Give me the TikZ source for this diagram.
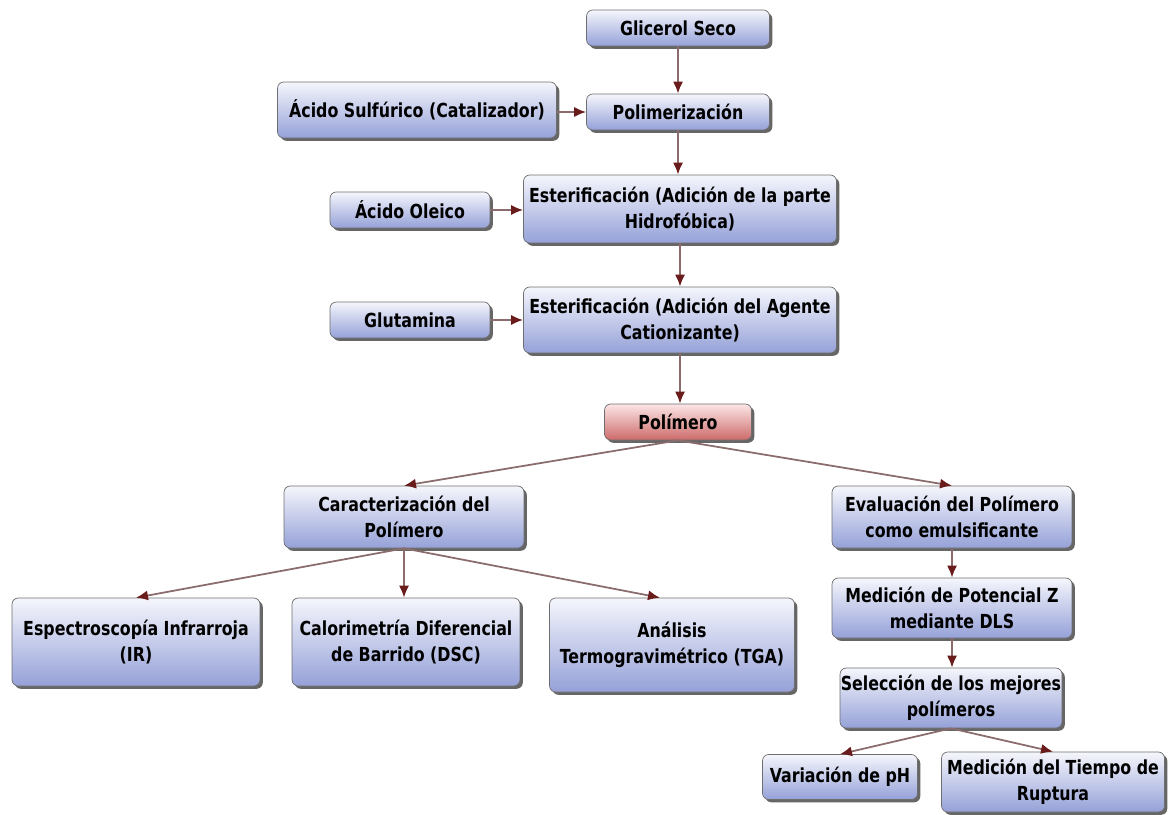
\documentclass[tikz,border=0pt]{standalone}
\usepackage{fontspec}
\setmainfont{DejaVu Sans Condensed}[FakeStretch=0.91]
\usetikzlibrary{arrows.meta,shadows}
\definecolor{boxtop}{HTML}{F5F6FC}
\definecolor{boxbot}{HTML}{95A1D8}
\definecolor{redtop}{HTML}{FCE6E6}
\definecolor{redbot}{HTML}{CD6A6A}
\definecolor{edgegray}{HTML}{6E6E6E}
\definecolor{linecol}{HTML}{8A6C6C}
\definecolor{tipcol}{HTML}{6A1C1C}
\tikzset{
  flowbox/.style={draw=edgegray, line width=0.4pt, rounded corners=3.5pt,
    top color=boxtop, bottom color=boxbot, align=center, inner xsep=0pt, inner ysep=2pt,
    font=\fontsize{11}{14.5}\selectfont\bfseries, text=black,
    drop shadow={shadow xshift=1.6pt, shadow yshift=-1.6pt, fill=black, opacity=0.6}},
  redflow/.style={flowbox, top color=redtop, bottom color=redbot},
  conn/.style={draw=linecol, line width=1pt,
    -{Latex[length=2.4mm,width=2mm,color=tipcol,fill=tipcol]}}
}
\begin{document}
\begin{tikzpicture}[x=0.02cm,y=-0.02cm]
\useasboundingbox (0,0) rectangle (1168,814);
\node[flowbox, minimum width=3.66cm, minimum height=0.72cm] (glic) at (678,28) {Glicerol Seco};
\node[flowbox, minimum width=3.66cm, minimum height=0.72cm] (poli) at (678,112) {Polimerización};
\node[flowbox, minimum width=5.58cm, minimum height=1.12cm] (acs) at (417,110) {Ácido Sulfúrico (Catalizador)};
\node[flowbox, minimum width=3.2cm, minimum height=0.72cm] (olei) at (410,210) {Ácido Oleico};
\node[flowbox, minimum width=6.26cm, minimum height=1.36cm] (est1) at (680,209) {Esterificación (Adición de la parte\\Hidrofóbica)};
\node[flowbox, minimum width=3.2cm, minimum height=0.72cm] (glut) at (410,320) {Glutamina};
\node[flowbox, minimum width=6.26cm, minimum height=1.32cm] (est2) at (680,320) {Esterificación (Adición del Agente\\Cationizante)};
\node[redflow, minimum width=2.94cm, minimum height=0.72cm] (pol) at (678,422) {Polímero};
\node[flowbox, minimum width=4.8cm, minimum height=1.24cm] (car) at (404,517) {Caracterización del\\Polímero};
\node[flowbox, minimum width=4.8cm, minimum height=1.24cm] (eva) at (952,517) {Evaluación del Polímero\\como emulsificante};
\node[flowbox, minimum width=4.96cm, minimum height=1.76cm] (ir) at (136,642) {Espectroscopía Infrarroja\\(IR)};
\node[flowbox, minimum width=4.56cm, minimum height=1.76cm] (dsc) at (406,642) {Calorimetría Diferencial\\de Barrido (DSC)};
\node[flowbox, minimum width=4.9cm, minimum height=1.88cm] (tga) at (672,645) {Análisis\\Termogravimétrico (TGA)};
\node[flowbox, minimum width=4.8cm, minimum height=1.2cm] (med) at (952,608) {Medición de Potencial Z\\mediante DLS};
\node[flowbox, minimum width=4.44cm, minimum height=1.2cm] (sel) at (951,698) {Selección de los mejores\\polímeros};
\node[flowbox, minimum width=3.1cm, minimum height=0.9cm] (ph) at (840,777) {Variación de pH};
\node[flowbox, minimum width=4.46cm, minimum height=1.2cm] (rup) at (1053,782) {Medición del Tiempo de\\Ruptura};

\draw[conn] (glic.south) -- (glic.south |- poli.north);
\draw[conn] (acs.east |- poli.west) -- (poli.west);
\draw[conn] (poli.south) -- (poli.south |- est1.north);
\draw[conn] (olei.east) -- (olei.east -| est1.west);
\draw[conn] (est1.south) -- (est1.south |- est2.north);
\draw[conn] (glut.east) -- (glut.east -| est2.west);
\draw[conn] (est2.south) -- (est2.south |- pol.north);
\draw[conn] (pol.south) -- (car.north);
\draw[conn] (pol.south) -- (eva.north);
\draw[conn] (car.south) -- (ir.north);
\draw[conn] (car.south) -- (car.south |- dsc.north);
\draw[conn] (car.south) -- ([xshift=-0.24cm]tga.north);
\draw[conn] (eva.south) -- (eva.south |- med.north);
\draw[conn] (med.south) -- (med.south |- sel.north);
\draw[conn] (sel.south) -- (ph.north);
\draw[conn] (sel.south) -- (rup.north);
\end{tikzpicture}
\end{document}
